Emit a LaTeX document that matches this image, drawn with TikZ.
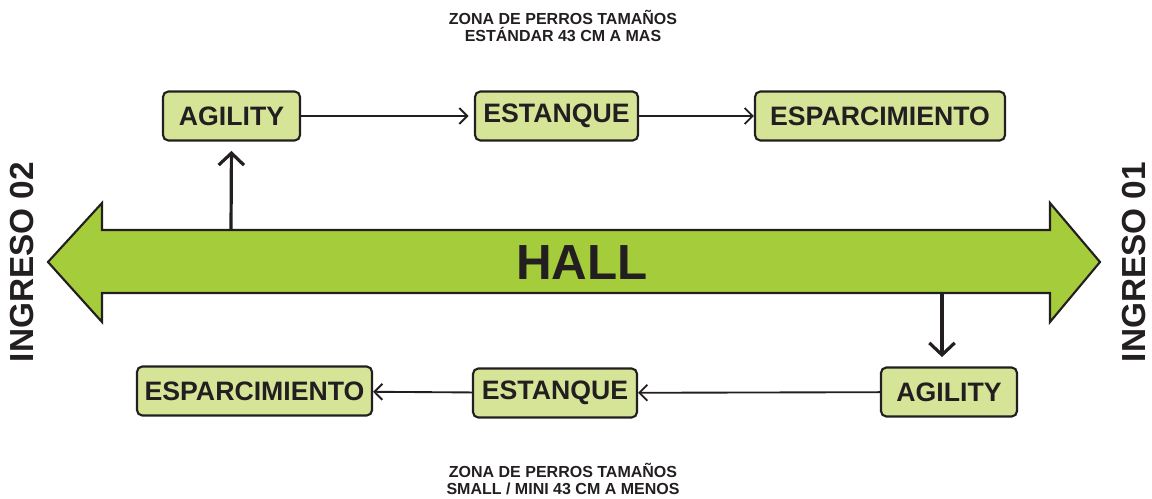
\documentclass[tikz,border=0pt]{standalone}
\usepackage{fontspec}
\setmainfont{Liberation Sans}
\usetikzlibrary{arrows.meta}
\definecolor{boxgreen}{RGB}{214,228,152}
\definecolor{hallgreen}{RGB}{165,204,58}
\definecolor{ink}{RGB}{35,31,32}

\begin{document}
\begin{tikzpicture}[x=0.75pt, y=-0.75pt, line join=miter,
  zone/.style={draw=ink, line width=1.6pt, fill=boxgreen, rounded corners=4pt,
    minimum height=36.75pt, inner sep=0pt, text=ink,
    font=\fontsize{20}{22}\selectfont\bfseries},
  link/.style={draw=ink, line width=1.4pt, -{Straight Barb[length=6pt, width=12pt]}},
  drop/.style={draw=ink, line width=2.4pt, -{Straight Barb[length=9pt, width=19pt]}},
  caption/.style={align=center, text=ink, font=\fontsize{12}{13}\selectfont\bfseries},
  gate/.style={rotate=90, inner sep=0pt, text=ink, font=\fontsize{25}{25}\selectfont\bfseries}]
  \useasboundingbox (0,0) rectangle (1152,499);
  % pasillo central: flecha doble
  \coordinate (tipL) at (48,262);
  \coordinate (tipR) at (1100,262);
  \draw[ink, line width=1.6pt, fill=hallgreen]
    (tipL) -- (102,203) -- (102,230) -- (1050,230) -- (1050,203) -- (tipR)
    -- (1050,322) -- (1050,293) -- (102,293) -- (102,322) -- cycle;
  \node[text=ink, font=\fontsize{37}{37}\selectfont\bfseries] (hall) at (582,263) {HALL};
  % ingresos
  \node[gate] (in2) at (22,262) {INGRESO 02};
  \node[gate] (in1) at (1134,262) {INGRESO 01};
  % zona estandar (arriba)
  \node[caption] (capA) at (563,26) {ZONA DE PERROS TAMAÑOS\\ESTÁNDAR 43 CM A MAS};
  \node[zone, minimum width=102.75pt] (agilA) at (231.5,116) {AGILITY};
  \node[zone, minimum width=122.25pt] (estA) at (556.5,116) {ESTANQUE};
  \node[zone, minimum width=187.5pt] (espA) at (880,116) {ESPARCIMIENTO};
  % zona small / mini (abajo)
  \node[caption] (capB) at (563,479) {ZONA DE PERROS TAMAÑOS\\SMALL / MINI 43 CM A MENOS};
  \node[zone, minimum width=102pt] (agilB) at (949,392) {AGILITY};
  \node[zone, minimum width=123pt] (estB) at (555,393) {ESTANQUE};
  \node[zone, minimum width=176.25pt] (espB) at (254.5,391) {ESPARCIMIENTO};
  % conexiones
  \coordinate (upA) at (231,230);
  \coordinate (dnB) at (942,293);
  \draw[drop, shorten >=7pt] (upA) -- (agilA.south);
  \draw[link, shorten >=4pt] (agilA) -- (estA);
  \draw[link] (estA) -- (espA);
  \draw[drop, shorten >=7pt] (dnB) -- (dnB |- agilB.north);
  \draw[link] (agilB) -- (estB);
  \draw[link] (estB) -- (espB);
\end{tikzpicture}
\end{document}
